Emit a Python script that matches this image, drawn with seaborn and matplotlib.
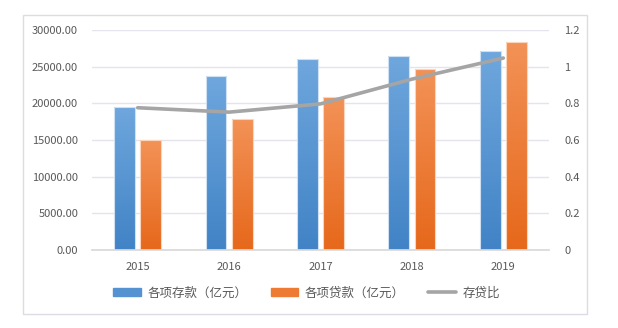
import numpy as np
import pandas as pd
import matplotlib
matplotlib.use("Agg")
import matplotlib.pyplot as plt
from matplotlib.patches import Patch, Rectangle
from matplotlib.lines import Line2D
from matplotlib.colors import LinearSegmentedColormap
import seaborn as sns

# Data
years = ["2015", "2016", "2017", "2018", "2019"]
deposits = [19500, 23700, 26100, 26500, 27100]   # 各项存款（亿元）
loans = [15000, 17900, 20800, 24700, 28400]      # 各项贷款（亿元）
ratio = [0.776, 0.752, 0.797, 0.932, 1.047]      # 存贷比

dep_name = "各项存款（亿元）"
loan_name = "各项贷款（亿元）"
ratio_name = "存贷比"

sns.set_theme(style="white")
plt.rcParams["font.family"] = ["Noto Sans CJK SC", "DejaVu Sans"]

txt = "#595959"
grid_c = "#e4e4ec"

df = pd.DataFrame({
    "year": years * 2,
    "value": deposits + loans,
    "series": [dep_name] * len(years) + [loan_name] * len(years),
})

fig = plt.figure(figsize=(6.18, 3.28), dpi=100)
# outer chart frame
fig.patches.append(Rectangle((23 / 618, 1 - 314 / 328), (587 - 23) / 618, (314 - 15) / 328,
                             transform=fig.transFigure, fill=False,
                             edgecolor="#dcdce4", linewidth=1.0))

ax = fig.add_axes([92 / 618, 1 - 250 / 328, (549 - 92) / 618, 220 / 328])

palette = {dep_name: "#5b9bd5", loan_name: "#ed7d31"}
sns.barplot(data=df, x="year", y="value", hue="series", order=years,
            hue_order=[dep_name, loan_name], palette=palette,
            width=0.57, gap=0.2, ax=ax, legend=False)

ax.set_xlim(-0.5, len(years) - 0.5)
ax.set_ylim(0, 30000)
ax.set_yticks(np.arange(0, 30001, 5000))
ax.set_yticklabels([f"{v:.2f}" for v in np.arange(0, 30001, 5000)])
ax.set_xlabel("")
ax.set_ylabel("")

# vertical gradients on bars
grads = {
    dep_name: LinearSegmentedColormap.from_list("dep", ["#4183c6", "#6fa7dd"]),
    loan_name: LinearSegmentedColormap.from_list("loan", ["#e6681b", "#f39257"]),
}
edges = {dep_name: "#cfe0f3", loan_name: "#fad5bb"}
n = len(years)
bars = list(ax.patches)
for i, bar in enumerate(bars[:2 * n]):
    key = dep_name if i < n else loan_name
    x0, y0 = bar.get_x(), bar.get_y()
    w, h = bar.get_width(), bar.get_height()
    bar.set_facecolor("none")
    bar.set_edgecolor(edges[key])
    bar.set_linewidth(0.8)
    grad = np.linspace(0, 1, 256).reshape(-1, 1)
    im = ax.imshow(grad, extent=[x0, x0 + w, y0, y0 + h], origin="lower",
                   aspect="auto", cmap=grads[key], zorder=bar.get_zorder() - 0.1)
    im.set_clip_path(bar)
ax.set_xlim(-0.5, len(years) - 0.5)
ax.set_ylim(0, 30000)

ax.grid(axis="y", color=grid_c, linewidth=1.0)
ax.set_axisbelow(True)
for s in ["left", "right", "top"]:
    ax.spines[s].set_visible(False)
ax.spines["bottom"].set_color("#d9d9d9")

# category separators below the axis
ax.set_xticks(np.arange(-0.5, len(years), 1.0), minor=True)
ax.tick_params(axis="x", which="minor", length=18, width=0.8, color="#d9d9d9", direction="out")
ax.tick_params(axis="x", which="major", length=0, pad=9, labelsize=8, labelcolor=txt)
ax.tick_params(axis="y", length=0, pad=10, labelsize=8, labelcolor=txt)

# ratio on secondary axis
ax2 = ax.twinx()
sns.lineplot(x=np.arange(len(years)), y=ratio, ax=ax2, color="#a5a5a5",
             linewidth=2.6, legend=False)
ax2.set_ylim(0, 1.2)
r_ticks = [0, 0.2, 0.4, 0.6, 0.8, 1.0, 1.2]
ax2.set_yticks(r_ticks)
ax2.set_yticklabels([f"{t:g}" for t in r_ticks])
ax2.tick_params(axis="y", length=0, pad=11, labelsize=8, labelcolor=txt)
for s in ax2.spines.values():
    s.set_visible(False)
ax2.set_xlim(-0.5, len(years) - 0.5)

handles = [
    Patch(facecolor="#5592d2", edgecolor="#5592d2", label=dep_name),
    Patch(facecolor="#ee7b33", edgecolor="#ee7b33", label=loan_name),
    Line2D([0], [0], color="#a5a5a5", linewidth=2.6, label=ratio_name),
]
fig.legend(handles=handles, loc="center", bbox_to_anchor=(0.496, 1 - 293 / 328),
           ncol=3, frameon=False, fontsize=9, labelcolor=txt,
           handlelength=2.2, handleheight=0.55, handletextpad=0.5, columnspacing=1.9)

fig.savefig("out.png", dpi=100)
